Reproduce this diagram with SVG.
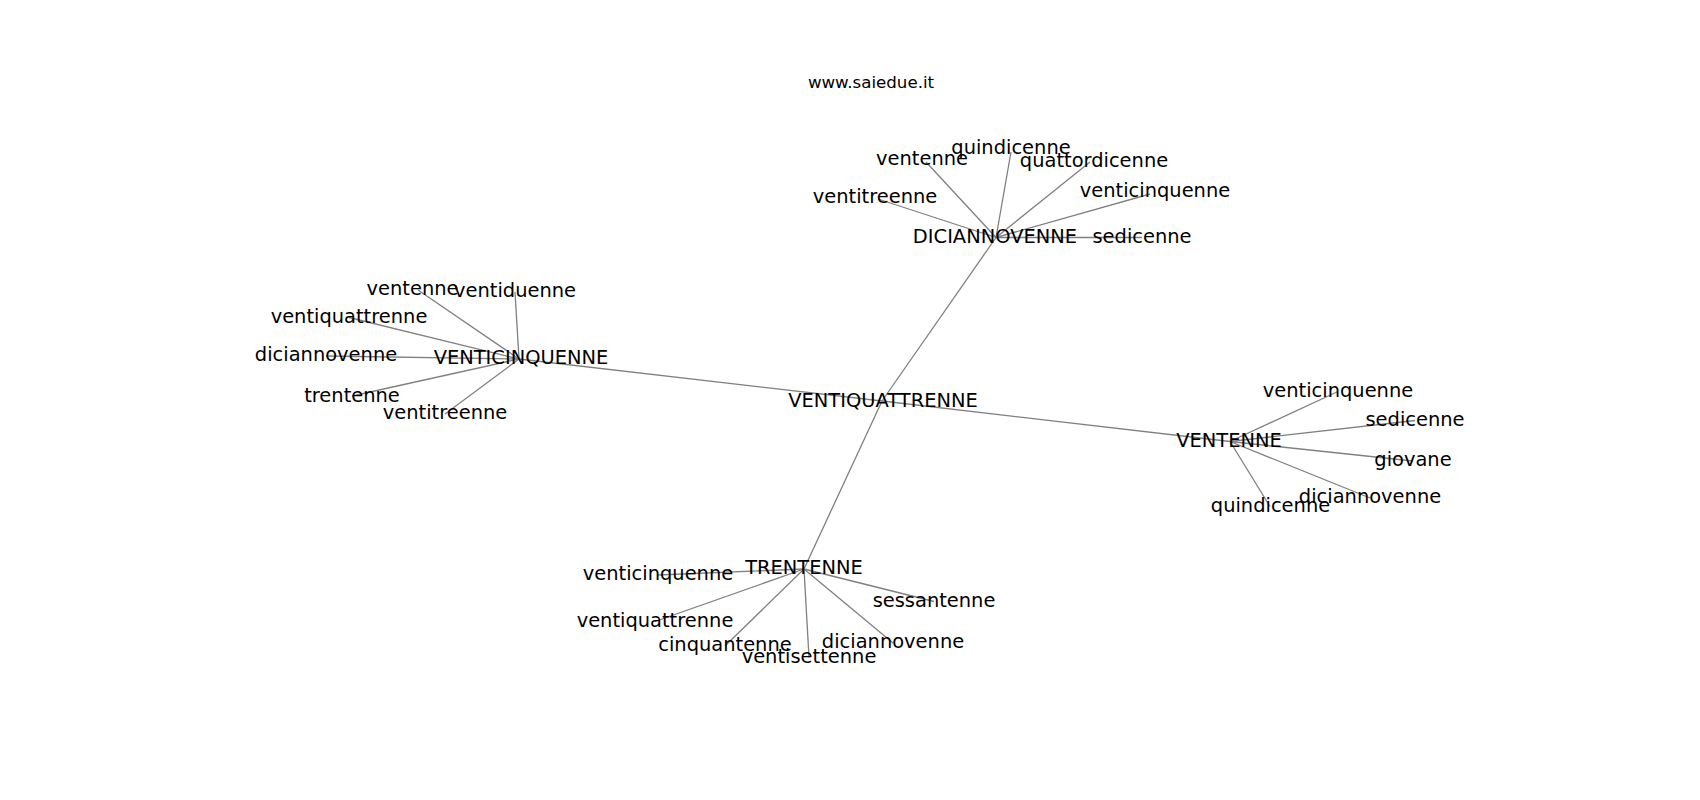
<svg xmlns="http://www.w3.org/2000/svg" width="1700" height="800" viewBox="0 0 1700 800">
<style>
.e{stroke:#808080;stroke-width:1.3;fill:none}
.t{font-family:"DejaVu Sans",sans-serif;font-size:19.44px;fill:#000;text-anchor:middle}
.title{font-family:"DejaVu Sans",sans-serif;font-size:16.67px;fill:#000;text-anchor:middle}
</style>
<rect width="1700" height="800" fill="#fff"/>
<text class="title" x="871" y="88.3">www.saiedue.it</text>
<g id="edges">
<line class="e" x1="882" y1="401" x2="519" y2="359"/>
<line class="e" x1="882" y1="401" x2="996" y2="237.5"/>
<line class="e" x1="882" y1="401" x2="1230" y2="441.5"/>
<line class="e" x1="882" y1="401" x2="804" y2="569"/>
<line class="e" x1="519" y1="359" x2="418" y2="290"/>
<line class="e" x1="519" y1="359" x2="515" y2="292"/>
<line class="e" x1="519" y1="359" x2="349" y2="317.5"/>
<line class="e" x1="519" y1="359" x2="326" y2="356"/>
<line class="e" x1="519" y1="359" x2="352" y2="396"/>
<line class="e" x1="519" y1="359" x2="445" y2="414"/>
<line class="e" x1="996" y1="237.5" x2="1011" y2="152"/>
<line class="e" x1="996" y1="237.5" x2="926" y2="162"/>
<line class="e" x1="996" y1="237.5" x2="1090" y2="162"/>
<line class="e" x1="996" y1="237.5" x2="878" y2="199"/>
<line class="e" x1="996" y1="237.5" x2="1150" y2="194"/>
<line class="e" x1="996" y1="237.5" x2="1142" y2="237.5"/>
<line class="e" x1="1230" y1="441.5" x2="1338" y2="391.5"/>
<line class="e" x1="1230" y1="441.5" x2="1415" y2="420.5"/>
<line class="e" x1="1230" y1="441.5" x2="1413" y2="461"/>
<line class="e" x1="1230" y1="441.5" x2="1370" y2="498"/>
<line class="e" x1="1230" y1="441.5" x2="1270" y2="506.5"/>
<line class="e" x1="804" y1="569" x2="658" y2="575"/>
<line class="e" x1="804" y1="569" x2="934" y2="601.5"/>
<line class="e" x1="804" y1="569" x2="655" y2="621.5"/>
<line class="e" x1="804" y1="569" x2="725" y2="646"/>
<line class="e" x1="804" y1="569" x2="809" y2="657.5"/>
<line class="e" x1="804" y1="569" x2="893" y2="643"/>
</g>
<g id="n_ventiquattrenne"><text class="t" x="883" y="407">VENTIQUATTRENNE</text></g>
<g id="n_venticinquenne"><text class="t" x="521" y="364.3">VENTICINQUENNE</text></g>
<g id="n_vc_ventenne"><text class="t" x="412.5" y="295">ventenne</text></g>
<g id="n_vc_ventiduenne"><text class="t" x="515" y="297.3">ventiduenne</text></g>
<g id="n_vc_ventiquattrenne"><text class="t" x="349" y="322.7">ventiquattrenne</text></g>
<g id="n_vc_diciannovenne"><text class="t" x="326" y="361">diciannovenne</text></g>
<g id="n_vc_trentenne"><text class="t" x="352" y="401.7">trentenne</text></g>
<g id="n_vc_ventitreenne"><text class="t" x="445" y="419.3">ventitreenne</text></g>
<g id="n_diciannovenne"><text class="t" x="995" y="243.3">DICIANNOVENNE</text></g>
<g id="n_d_quindicenne"><text class="t" x="1011" y="154">quindicenne</text></g>
<g id="n_d_ventenne"><text class="t" x="922" y="165">ventenne</text></g>
<g id="n_d_quattordicenne"><text class="t" x="1094" y="166.7">quattordicenne</text></g>
<g id="n_d_ventitreenne"><text class="t" x="875" y="203.3">ventitreenne</text></g>
<g id="n_d_venticinquenne"><text class="t" x="1155" y="197.3">venticinquenne</text></g>
<g id="n_d_sedicenne"><text class="t" x="1142" y="242.7">sedicenne</text></g>
<g id="n_ventenne"><text class="t" x="1229" y="446.7">VENTENNE</text></g>
<g id="n_v_venticinquenne"><text class="t" x="1338" y="396.7">venticinquenne</text></g>
<g id="n_v_sedicenne"><text class="t" x="1415" y="425.7">sedicenne</text></g>
<g id="n_v_giovane"><text class="t" x="1413" y="466">giovane</text></g>
<g id="n_v_diciannovenne"><text class="t" x="1370" y="503.3">diciannovenne</text></g>
<g id="n_v_quindicenne"><text class="t" x="1270.5" y="511.7">quindicenne</text></g>
<g id="n_trentenne"><text class="t" x="804" y="574">TRENTENNE</text></g>
<g id="n_t_venticinquenne"><text class="t" x="658" y="580">venticinquenne</text></g>
<g id="n_t_sessantenne"><text class="t" x="934" y="606.7">sessantenne</text></g>
<g id="n_t_ventiquattrenne"><text class="t" x="655" y="626.7">ventiquattrenne</text></g>
<g id="n_t_cinquantenne"><text class="t" x="725" y="651">cinquantenne</text></g>
<g id="n_t_ventisettenne"><text class="t" x="809" y="662.7">ventisettenne</text></g>
<g id="n_t_diciannovenne"><text class="t" x="893" y="648.3">diciannovenne</text></g>
</svg>
